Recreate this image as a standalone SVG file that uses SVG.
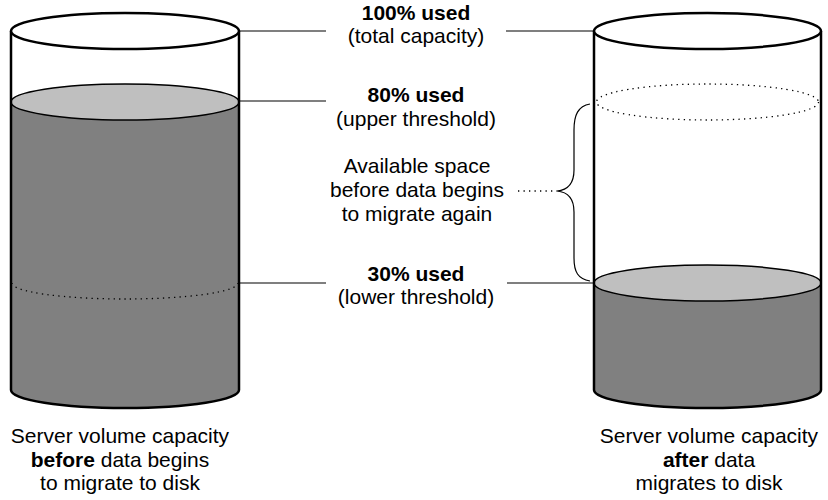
<svg xmlns="http://www.w3.org/2000/svg" width="828" height="500" viewBox="0 0 828 500">
<style>
  text { font-family: "Liberation Sans", Arial, sans-serif; font-size: 21px; fill: #000; text-anchor: middle; }
  .b { font-weight: bold; }
  .wall { fill: none; stroke: #000; stroke-width: 2.5; }
  .top { fill: #fff; stroke: #000; stroke-width: 2.5; }
  .body { fill: #808080; stroke: none; }
  .surf { fill: #bfbfbf; stroke: #000; stroke-width: 1.5; }
  .dots { fill: none; stroke: #000; stroke-width: 1.3; stroke-dasharray: 1.3 4.2; }
  .conn { fill: none; stroke: #000; stroke-width: 1.2; }
</style>
<rect width="828" height="500" fill="#fff"/>

<g id="cylinder-before">
  <path class="body" d="M11,102 L11,390 A114,18 0 0 0 239,390 L239,102 Z"/>
  <ellipse class="surf" cx="125" cy="102" rx="114" ry="18"/>
  <path class="dots" d="M12,283 A113,16 0 0 0 238,283"/>
  <path class="wall" d="M11,31 L11,390 A114,18 0 0 0 239,390 L239,31"/>
  <ellipse class="top" cx="125" cy="31" rx="114" ry="18"/>
</g>

<g id="cylinder-after">
  <path class="body" d="M594,283 L594,390 A113.5,18 0 0 0 821,390 L821,283 Z"/>
  <ellipse class="surf" cx="707.5" cy="283" rx="113.5" ry="18"/>
  <ellipse class="dots" cx="707.5" cy="102" rx="111" ry="18"/>
  <path class="wall" d="M594,31 L594,390 A113.5,18 0 0 0 821,390 L821,31"/>
  <ellipse class="top" cx="707.5" cy="31" rx="113.5" ry="18"/>
</g>

<g id="label-100">
  <text class="b" x="416" y="20">100% used</text>
  <text x="416" y="43">(total capacity)</text>
</g>
<g id="label-80">
  <text class="b" x="416" y="102">80% used</text>
  <text x="416" y="126">(upper threshold)</text>
</g>
<g id="label-available">
  <text x="417" y="173">Available space</text>
  <text x="417" y="197">before data begins</text>
  <text x="417" y="221">to migrate again</text>
</g>
<g id="label-30">
  <text class="b" x="416" y="281">30% used</text>
  <text x="416" y="304">(lower threshold)</text>
</g>
<g id="caption-before">
  <text x="120" y="443">Server volume capacity</text>
  <text x="120" y="467"><tspan class="b">before</tspan> data begins</text>
  <text x="120" y="490">to migrate to disk</text>
</g>
<g id="caption-after">
  <text x="709" y="443">Server volume capacity</text>
  <text x="709" y="467"><tspan class="b">after</tspan> data</text>
  <text x="709" y="490">migrates to disk</text>
</g>

<g id="connectors">
  <line class="conn" x1="239" y1="31" x2="326" y2="31"/>
  <line class="conn" x1="506" y1="31" x2="594" y2="31"/>
  <line class="conn" x1="239" y1="101" x2="326" y2="101"/>
  <line class="conn" x1="239" y1="283" x2="326" y2="283"/>
  <line class="conn" x1="507" y1="283" x2="594" y2="283"/>
  <path class="conn" d="M590,104 C578,106 574,115 574,130 L574,170 C574,183 568,190 557,191 C568,192 574,199 574,212 L574,258 C574,272 578,279 590,281"/>
  <line class="dots" x1="518" y1="191" x2="557" y2="191"/>
</g>
</svg>
